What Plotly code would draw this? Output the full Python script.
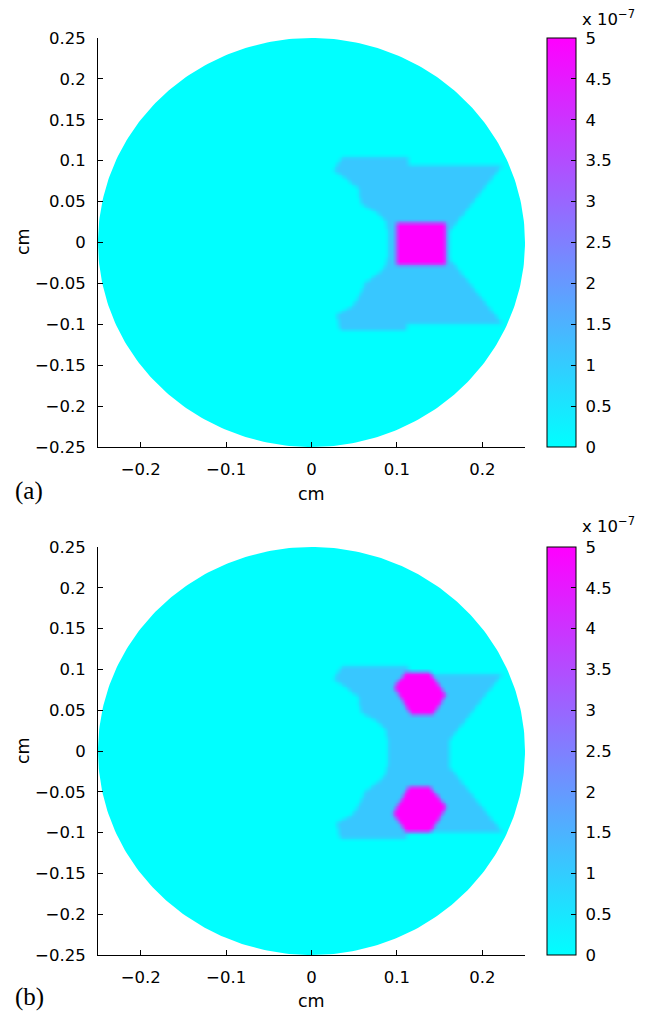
import numpy as np
import plotly.graph_objects as go

# ---------------- data ----------------
DISK_RADIUS = 0.25            # cm
GRID_STEP = 0.002             # cm (sampling of the field)
BACKGROUND_LEVEL = 0.0
BLUE_LEVEL = 1.1e-7
PEAK_LEVEL = 5e-7
Z_MIN, Z_MAX = 0.0, 5e-7
SMOOTH_KERNEL = [1, 2, 3, 2, 1]   # shading interpolation across element edges

# bowtie-shaped region (same in both panels), cm
blue_x = [0.035, 0.113, 0.113, 0.223, 0.162, 0.162, 0.223, 0.111, 0.110, 0.033,
          0.029, 0.048, 0.057, 0.062, 0.074, 0.085, 0.089, 0.089, 0.086, 0.076,
          0.057, 0.054, 0.035, 0.025]
blue_y = [0.105, 0.105, 0.095, 0.095, 0.015, -0.020, -0.099, -0.099, -0.107, -0.107,
          -0.087, -0.077, -0.062, -0.049, -0.040, -0.030, -0.015, 0.012, 0.027, 0.037,
          0.048, 0.067, 0.082, 0.088]

# panel (a): single central peak
peak_a_x = [0.099, 0.157, 0.157, 0.099]
peak_a_y = [0.025, 0.025, -0.026, -0.026]

# panel (b): two peaks
peak_b1_x = [0.110, 0.138, 0.157, 0.142, 0.116, 0.096]
peak_b1_y = [0.097, 0.097, 0.069, 0.045, 0.045, 0.079]
peak_b2_x = [0.113, 0.138, 0.158, 0.140, 0.110, 0.095]
peak_b2_y = [-0.044, -0.043, -0.068, -0.098, -0.099, -0.076]

x_tickvals = [-0.2, -0.1, 0, 0.1, 0.2]
x_ticktext = ["\u22120.2", "\u22120.1", "0", "0.1", "0.2"]
y_tickvals = [0.25, 0.2, 0.15, 0.1, 0.05, 0, -0.05, -0.1, -0.15, -0.2, -0.25]
y_ticktext = ["0.25", "0.2", "0.15", "0.1", "0.05", "0", "\u22120.05", "\u22120.1",
              "\u22120.15", "\u22120.2", "\u22120.25"]
cb_tickvals = [0, 0.5e-7, 1e-7, 1.5e-7, 2e-7, 2.5e-7, 3e-7, 3.5e-7, 4e-7, 4.5e-7, 5e-7]
cb_ticktext = ["0", "0.5", "1", "1.5", "2", "2.5", "3", "3.5", "4", "4.5", "5"]
panel_labels = ["(a)", "(b)"]
axis_title = "cm"
exponent_label = "x 10<sup>\u22127</sup>"

# ---------------- helpers ----------------
def inside(px, py, vx, vy):
    res = np.zeros(px.shape, dtype=bool)
    n = len(vx)
    j = n - 1
    for i in range(n):
        xi, yi, xj, yj = vx[i], vy[i], vx[j], vy[j]
        denom = (yj - yi) if (yj - yi) != 0 else 1e-300
        cond = ((yi > py) != (yj > py)) & (px < (xj - xi) * (py - yi) / denom + xi)
        res ^= cond
        j = i
    return res

def smooth(z):
    k = np.array(SMOOTH_KERNEL, float)
    k /= k.sum()
    p = len(k) // 2
    zp = np.pad(z, ((0, 0), (p, p)), mode="edge")
    z = np.apply_along_axis(lambda r: np.convolve(r, k, mode="valid"), 1, zp)
    zp = np.pad(z, ((p, p), (0, 0)), mode="edge")
    z = np.apply_along_axis(lambda c: np.convolve(c, k, mode="valid"), 0, zp)
    return z

n = int(round(2 * DISK_RADIUS / GRID_STEP)) + 1
gx = np.linspace(-DISK_RADIUS, DISK_RADIUS, n)
gy = np.linspace(-DISK_RADIUS, DISK_RADIUS, n)
GX, GY = np.meshgrid(gx, gy)

def field(peaks):
    z = np.full(GX.shape, BACKGROUND_LEVEL)
    z[inside(GX, GY, blue_x, blue_y)] = BLUE_LEVEL
    for px_, py_ in peaks:
        z[inside(GX, GY, px_, py_)] = PEAK_LEVEL
    return np.round(smooth(z), 11)

z_a = field([(peak_a_x, peak_a_y)])
z_b = field([(peak_b1_x, peak_b1_y), (peak_b2_x, peak_b2_y)])

# white mask outside the disk (keyhole polygon)
theta = np.linspace(0, -2 * np.pi, 361)
E = 0.3
mask_x = [DISK_RADIUS, E, E, -E, -E, E, E, DISK_RADIUS] + list(DISK_RADIUS * np.cos(theta))
mask_y = [0, 0, E, E, -E, -E, 0, 0] + list(DISK_RADIUS * np.sin(theta))

# ---------------- layout geometry (page pixels; page body has an 8px margin) ----------------
OFF = 8
W, H = 646 - OFF, 1013 - OFF
ML, MR, MT, MB = 98 - OFF, 121, 38 - OFF, 58
PW = W - ML - MR
PH = H - MT - MB
def py2paper(p):           # page pixel y -> paper
    return (MT + PH - (p - OFF)) / PH
def px2paper(p):           # page pixel x -> paper
    return (p - OFF - ML) / PW

dom_a = [py2paper(447), 1.0]
dom_b = [0.0, py2paper(547)]

FONT = "DejaVu Sans, Liberation Sans, Arial, sans-serif"
SERIF = "Liberation Serif, Times New Roman, serif"
TICK_SIZE = 16.5
colorscale = [[0, "rgb(0,255,255)"], [1, "rgb(255,0,255)"]]

def cbar(dom):
    return dict(
        x=px2paper(547), xanchor="left", xpad=0,
        y=dom[1], yanchor="top", ypad=0,
        len=dom[1] - dom[0], lenmode="fraction",
        thickness=29, thicknessmode="pixels",
        outlinewidth=1, outlinecolor="black",
        ticks="inside", ticklen=5, tickcolor="black", tickwidth=1,
        tickvals=cb_tickvals,
        ticktext=["\u00a0" + t for t in cb_ticktext],
        tickfont=dict(family=FONT, size=TICK_SIZE, color="black"),
    )

fig = go.Figure()
for z, xa, ya, dom in [(z_a, "x", "y", dom_a), (z_b, "x2", "y2", dom_b)]:
    fig.add_trace(go.Heatmap(
        x=gx, y=gy, z=z, zmin=Z_MIN, zmax=Z_MAX, colorscale=colorscale,
        zsmooth="best", xaxis=xa, yaxis=ya, colorbar=cbar(dom), hoverinfo="skip"))
    fig.add_trace(go.Scatter(
        x=mask_x, y=mask_y, fill="toself", fillcolor="white", mode="lines",
        line=dict(width=0, color="white"), xaxis=xa, yaxis=ya,
        showlegend=False, hoverinfo="skip"))

xcommon = dict(range=[-DISK_RADIUS, DISK_RADIUS], showgrid=False, zeroline=False,
               showline=True, linecolor="black", linewidth=1, mirror=False,
               ticks="inside", ticklen=5, tickcolor="black", tickwidth=1,
               tickvals=x_tickvals, ticktext=x_ticktext, ticklabelstandoff=7,
               tickfont=dict(family=FONT, size=TICK_SIZE, color="black"))
ycommon = dict(range=[-DISK_RADIUS, DISK_RADIUS], showgrid=False, zeroline=False,
               showline=True, linecolor="black", linewidth=1, mirror=False,
               ticks="inside", ticklen=5, tickcolor="black", tickwidth=1,
               tickvals=y_tickvals, ticktext=y_ticktext, ticklabelstandoff=8,
               tickfont=dict(family=FONT, size=TICK_SIZE, color="black"))

fig.update_layout(
    width=W, height=H, margin=dict(l=ML, r=MR, t=MT, b=MB, pad=0, autoexpand=False),
    paper_bgcolor="white", plot_bgcolor="white", showlegend=False,
    xaxis=dict(domain=[0, 1], anchor="y", **xcommon),
    yaxis=dict(domain=dom_a, anchor="x", **ycommon),
    xaxis2=dict(domain=[0, 1], anchor="y2", **xcommon),
    yaxis2=dict(domain=dom_b, anchor="x2", **ycommon),
)

ann = []
for lab, xt_y, yt_y, lab_y, exp_y in [
        (panel_labels[0], 494, 242, 491, 31),
        (panel_labels[1], 1001, 751, 997, 538)]:
    ann.append(dict(text=axis_title, x=px2paper(311.7), y=py2paper(xt_y),
                    xref="paper", yref="paper", showarrow=False,
                    xanchor="center", yanchor="middle",
                    font=dict(family=FONT, size=17.5, color="black")))
    ann.append(dict(text=axis_title, x=px2paper(23), y=py2paper(yt_y),
                    xref="paper", yref="paper", showarrow=False, textangle=-90,
                    xanchor="center", yanchor="middle",
                    font=dict(family=FONT, size=17.5, color="black")))
    ann.append(dict(text=lab, x=px2paper(13), y=py2paper(lab_y),
                    xref="paper", yref="paper", showarrow=False,
                    xanchor="left", yanchor="middle",
                    font=dict(family=SERIF, size=25, color="black")))
    ann.append(dict(text=exponent_label, x=px2paper(580), y=py2paper(exp_y),
                    xref="paper", yref="paper", showarrow=False,
                    xanchor="left", yanchor="bottom",
                    font=dict(family=FONT, size=TICK_SIZE, color="black")))
fig.update_layout(annotations=ann)

fig.write_html("out.html")
